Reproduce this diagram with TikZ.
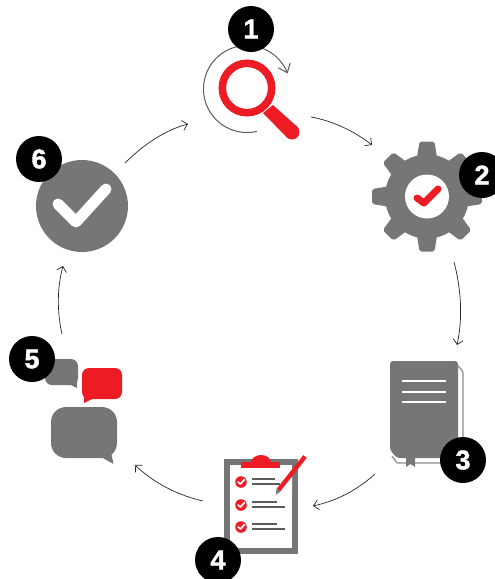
\documentclass[tikz,border=0pt]{standalone}
\usepackage{fontspec}
\setmainfont{Liberation Sans}
\newfontfamily\badgefont[FakeBold=1.6]{Liberation Sans Bold}
\usetikzlibrary{arrows.meta}
\definecolor{iconGray}{HTML}{757776}
\definecolor{iconRed}{HTML}{ED1C24}
\definecolor{arcGray}{HTML}{5A5B5D}
\tikzset{
  badge/.style={circle,fill=black,text=white,minimum size=46pt,inner sep=0pt,font=\fontsize{27}{27}\selectfont\badgefont},
  flow/.style={draw=black!85,line width=0.7pt,-{Straight Barb[length=5pt,width=10pt]}},
  grayfill/.style={fill=iconGray,draw=none},
  redfill/.style={fill=iconRed,draw=none},
  checkmark/.style={line cap=round,line join=round,fill=none},
  whiteline/.style={draw=white,line width=2.2pt},
  listline/.style={draw=arcGray,line width=1.4pt}
}
\begin{document}
\begin{tikzpicture}[x=1pt,y=-1pt]
\useasboundingbox (0,0) rectangle (495,579);
% icon 1: circular arrow and magnifier
\draw[arcGray,line width=1pt,-{Straight Barb[length=8pt,width=13pt]}] plot[domain=77:339,samples=90] ({247+43.5*cos(\x)},{89+43.5*sin(\x)});
\draw[iconRed,line width=7.6pt] (247,88) circle[radius=24.7pt];
\fill[redfill] (263,113) -- (273,105) -- (297,126.5) -- (287,137.5) -- cycle;
\fill[redfill] (292,132) circle[radius=7.5pt];
% icon 2: gear
\fill[grayfill] (427,196.5) circle[radius=42pt];
\foreach \a in {0,45,...,315}{
  \fill[grayfill,rounded corners=2pt,shift={(427,196.5)},rotate=\a] (-10.5,-36) -- (-7.5,-55) -- (7.5,-55) -- (10.5,-36) -- cycle;
}
\fill[white] (427,196.5) circle[radius=22pt];
\draw[checkmark,iconRed,line width=7pt] (417,198) -- (424,203) -- (438,189);
% icon 3: book
\draw[arcGray!70,line width=1.2pt,rounded corners=2pt] (458,366) -- (463,371) -- (463,445);
\draw[arcGray!70,line width=1.2pt] (392,456) -- (397,463) -- (446,463);
\fill[grayfill,rounded corners=3pt] (390,361) -- (458,361) -- (458,458) -- (397,458) -- (390,450) -- cycle;
\fill[grayfill] (406,457) -- (415,457) -- (415,467) -- (410.5,464) -- (406,467) -- cycle;
\foreach \y in {381,392,402}{
  \draw[whiteline] (402,\y) -- (446,\y);
}
% icon 4: clipboard
\fill[grayfill] (224,459) rectangle (298,554);
\fill[white] (230,465) rectangle (292,548);
\fill[redfill] (241,462) rectangle (280,467.5);
\fill[redfill] (251,462.5) arc[start angle=180,end angle=0,x radius=10pt,y radius=7.5pt] -- cycle;
\foreach \y in {482,505,527}{
  \fill[redfill] (241,\y) circle[radius=5.8pt];
  \draw[checkmark,white,line width=1.7pt] (238,\y) -- (240.5,\y+2) -- (244.5,\y-2.5);
  \draw[listline] (252,\y-3) -- (277,\y-3);
  \draw[listline] (252,\y+2) -- (285,\y+2);
}
\fill[white] (276,493) -- (275,476) -- (292,470) -- (292,490) -- cycle;
\draw[listline] (252,484) -- (280,484);
\draw[iconRed,line width=4.4pt] (278.5,490) -- (305,456.5);
\fill[iconGray] (276,494.5) -- (276.6,488.6) -- (280.4,491.6) -- cycle;
% icon 5: speech bubbles
\fill[grayfill,rounded corners=7pt] (45,359) rectangle (78,385);
\fill[grayfill] (69,384) -- (77,378) -- (77,388) -- cycle;
\fill[redfill,rounded corners=7pt] (82,368) rectangle (122,399);
\fill[redfill] (84,396) -- (84,403) -- (94,398) -- cycle;
\fill[grayfill,rounded corners=15pt] (51,407) rectangle (117,458);
\fill[grayfill] (101,457) -- (111,452) -- (113.5,464) -- cycle;
% icon 6: check circle
\fill[grayfill] (82,206) circle[radius=46pt];
\draw[checkmark,white,line width=11pt] (58,204) -- (76,222) -- (106,189);
% number badges
\node[badge] (b1) at (251,29) {1};
\node[badge] (b2) at (482,175) {2};
\node[badge] (b3) at (463,460) {3};
\node[badge] (b4) at (218,560) {4};
\node[badge] (b5) at (32,359) {5};
\node[badge] (b6) at (39,159) {6};
% connector ends
\coordinate (p1) at (311,117);
\coordinate (q1) at (372,145);
\coordinate (p2) at (454,262);
\coordinate (q2) at (457,345);
\coordinate (p3) at (375,474);
\coordinate (q3) at (313,506);
\coordinate (p4) at (203,501);
\coordinate (q4) at (135,465);
\coordinate (p5) at (62,334);
\coordinate (q5) at (63,266);
\coordinate (p6) at (125,163);
\coordinate (q6) at (188,124);
% connectors
\draw[flow] (p1) .. controls (333,121) and (354,131) .. (q1);
\draw[flow] (p2) .. controls (461,288) and (463,318) .. (q2);
\draw[flow] (p3) .. controls (355,492) and (335,501) .. (q3);
\draw[flow] (p4) .. controls (177,495) and (154,483) .. (q4);
\draw[flow] (p5) .. controls (57,312) and (57,288) .. (q5);
\draw[flow] (p6) .. controls (143,145) and (165,130) .. (q6);
\end{tikzpicture}
\end{document}
